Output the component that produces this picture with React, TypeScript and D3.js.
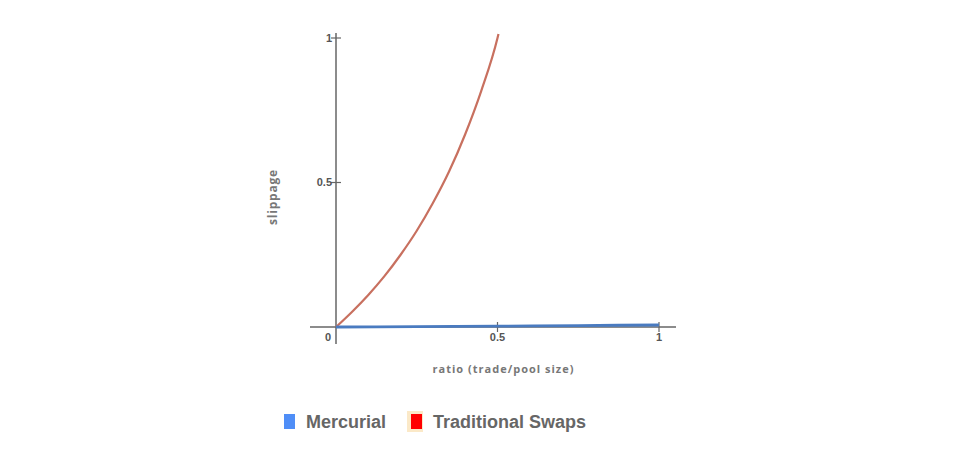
import React from "react";
import * as d3 from "d3";

const ratioTraditional = [0, 0.05, 0.1, 0.15, 0.2, 0.25, 0.3, 0.35, 0.4, 0.45, 0.5, 0.503];
const slippageTraditional = [0, 0.053, 0.111, 0.176, 0.25, 0.333, 0.429, 0.538, 0.667, 0.818, 1.0, 1.014];
const ratioMercurial = [0, 0.25, 0.5, 0.75, 1];
const slippageMercurial = [0, 0.0015, 0.003, 0.005, 0.007];
const xTicks = [0, 0.5, 1];
const yTicks = [0.5, 1];
const xTickLabels = ["0", "0.5", "1"];
const yTickLabels = ["0.5", "1"];
const seriesNames = ["Mercurial", "Traditional Swaps"];
const seriesColors = ["#4a7bc0", "#c8705f"];
const legendSwatch = ["#4f8ef7", "#ff0000"];

const W = 968;
const H = 468;

export default function App() {
  const x = d3.scaleLinear().domain([0, 1]).range([336, 659]);
  const y = d3.scaleLinear().domain([0, 1]).range([327, 38]);
  const line = d3
    .line<[number, number]>()
    .curve(d3.curveMonotoneX)
    .x((d) => x(d[0]))
    .y((d) => y(d[1]));
  const trad = ratioTraditional.map((r, i) => [r, slippageTraditional[i]] as [number, number]);
  const merc = ratioMercurial.map((r, i) => [r, slippageMercurial[i]] as [number, number]);
  const tickFont = "'Liberation Sans', Arial, sans-serif";
  const titleFont = "'Open Sans', 'Noto Sans', sans-serif";
  return (
    <svg width={W} height={H} style={{ position: "absolute", left: 0, top: 0, background: "#fff" }}>
      {/* axes */}
      <line x1={310} x2={676} y1={y(0)} y2={y(0)} stroke="#666" strokeWidth={1.5} />
      <line x1={x(0)} x2={x(0)} y1={33} y2={344} stroke="#666" strokeWidth={1.5} />
      {yTicks.map((t, i) => (
        <g key={"yt" + i}>
          <line x1={x(0) - 5} x2={x(0) + 5} y1={y(t)} y2={y(t)} stroke="#666" strokeWidth={1.2} />
          <text x={x(0) - 4} y={y(t)} dy="0.35em" textAnchor="end" fontSize={11} fontWeight="bold" fill="#555" fontFamily={tickFont}>
            {yTickLabels[i]}
          </text>
        </g>
      ))}
      {xTicks.map((t, i) => (
        <g key={"xt" + i}>
          {t > 0 && <line x1={x(t)} x2={x(t)} y1={y(0) - 5} y2={y(0) + 5} stroke="#666" strokeWidth={1.2} />}
          <text
            x={t === 0 ? x(0) - 8 : x(t)}
            y={y(0) + 14}
            textAnchor="middle"
            fontSize={11}
            fontWeight="bold"
            fill="#555"
            fontFamily={tickFont}
          >
            {xTickLabels[i]}
          </text>
        </g>
      ))}
      {/* series */}
      <path d={line(trad) || ""} fill="none" stroke={seriesColors[1]} strokeWidth={2.2} />
      <path d={line(merc) || ""} fill="none" stroke={seriesColors[0]} strokeWidth={2.8} />
      {/* axis titles */}
      <text x={(x(0) + x(1)) / 2 + 6} y={373} textAnchor="middle" fontSize={11} fontWeight="bold" fill="#777" letterSpacing={1.0} fontFamily={titleFont}>
        ratio (trade/pool size)
      </text>
      <text
        transform={`translate(277,197) rotate(-90)`}
        textAnchor="middle"
        fontSize={12}
        fontWeight="bold"
        fill="#777"
        letterSpacing={0.8}
        fontFamily={titleFont}
      >
        slippage
      </text>
      {/* legend */}
      <rect x={284} y={414} width={11} height={15} fill={legendSwatch[0]} />
      <text x={306} y={428} fontSize={18} fontWeight="bold" fill="#666" fontFamily={tickFont}>
        {seriesNames[0]}
      </text>
      <rect x={407} y={411} width={16} height={21} fill="#fbe9c8" />
      <rect x={411} y={414} width={11} height={15} fill={legendSwatch[1]} />
      <text x={433} y={428} fontSize={18} fontWeight="bold" fill="#666" fontFamily={tickFont}>
        {seriesNames[1]}
      </text>
    </svg>
  );
}
